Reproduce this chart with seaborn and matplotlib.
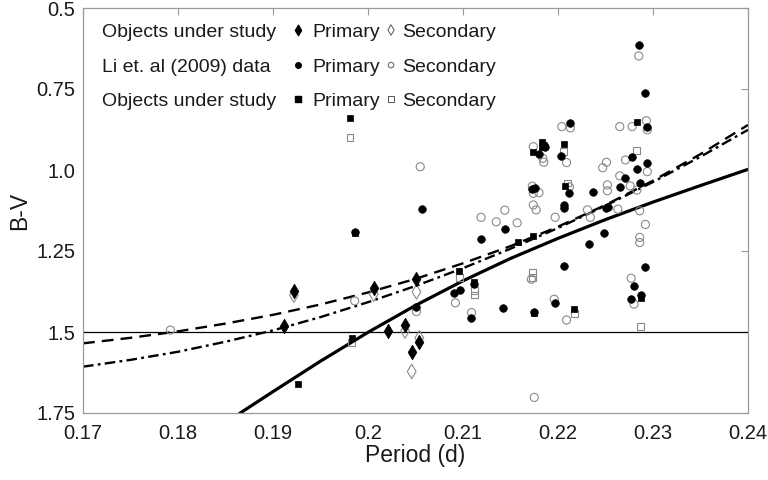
import numpy as np
import pandas as pd
import matplotlib
matplotlib.use("Agg")
import matplotlib.pyplot as plt
import seaborn as sns

# ---------------- data ----------------
# Objects under study (diamonds)
diamond_primary_period = [0.1912, 0.1922, 0.2006, 0.2021, 0.2039, 0.2046, 0.2051, 0.2054]
diamond_primary_bv = [1.481, 1.373, 1.364, 1.497, 1.479, 1.561, 1.337, 1.530]
diamond_secondary_period = [0.1922, 0.2006, 0.2039, 0.2046, 0.2051, 0.2054]
diamond_secondary_bv = [1.386, 1.383, 1.497, 1.622, 1.376, 1.518]

# Objects under study (squares)
square_primary_period = [0.1926, 0.1981, 0.1983, 0.1986, 0.2096, 0.2112, 0.2158, 0.2174,
                         0.2174, 0.2175, 0.2183, 0.2183, 0.2206, 0.2207, 0.2217, 0.2283, 0.2287]
square_primary_bv = [1.661, 0.839, 1.519, 1.195, 1.312, 1.347, 1.221, 1.204,
                     0.943, 1.442, 0.913, 0.928, 0.920, 1.049, 1.429, 0.851, 1.396]
square_secondary_period = [0.1981, 0.1983, 0.2096, 0.2112, 0.2112, 0.2173, 0.2173, 0.2206,
                           0.2210, 0.2217, 0.2283, 0.2287]
square_secondary_bv = [0.899, 1.533, 1.332, 1.373, 1.386, 1.317, 1.332, 0.943,
                       1.040, 1.442, 0.940, 1.484]

# Li et al. (2009) data (circles)
li_primary_period = [0.1986, 0.2051, 0.2057, 0.2091, 0.2097, 0.2108, 0.2112, 0.2119, 0.2142,
                     0.2144, 0.2173, 0.2176, 0.2175, 0.2180, 0.2185, 0.2186, 0.2197, 0.2203,
                     0.2206, 0.2206, 0.2206, 0.2212, 0.2213, 0.2233, 0.2237, 0.2248, 0.2251,
                     0.2253, 0.2265, 0.2271, 0.2277, 0.2278, 0.2280, 0.2283, 0.2285, 0.2286,
                     0.2287, 0.2292, 0.2292, 0.2294, 0.2294]
li_primary_bv = [1.190, 1.424, 1.120, 1.379, 1.370, 1.458, 1.353, 1.213, 1.425,
                 1.183, 1.060, 1.055, 1.437, 0.951, 0.923, 0.930, 1.410, 0.957,
                 1.108, 1.118, 1.296, 1.070, 0.856, 1.229, 1.067, 1.194, 1.118,
                 1.113, 1.054, 1.026, 1.399, 0.959, 1.358, 0.998, 0.614, 1.041,
                 1.386, 0.761, 1.300, 0.866, 0.979]
li_secondary_period = [0.1792, 0.1986, 0.2051, 0.2055, 0.2092, 0.2109, 0.2119, 0.2135, 0.2144,
                       0.2157, 0.2172, 0.2173, 0.2174, 0.2174, 0.2174, 0.2177, 0.2175, 0.2180,
                       0.2184, 0.2185, 0.2196, 0.2197, 0.2204, 0.2209, 0.2209, 0.2212, 0.2213,
                       0.2231, 0.2234, 0.2247, 0.2251, 0.2252, 0.2252, 0.2263, 0.2265, 0.2265,
                       0.2271, 0.2276, 0.2277, 0.2278, 0.2280, 0.2283, 0.2285, 0.2286, 0.2286,
                       0.2286, 0.2292, 0.2293, 0.2294, 0.2294]
li_secondary_bv = [1.494, 1.404, 1.437, 0.990, 1.410, 1.440, 1.146, 1.160, 1.124,
                   1.163, 1.337, 1.050, 0.928, 1.072, 1.108, 1.123, 1.702, 1.070,
                   0.964, 0.976, 1.399, 1.146, 0.866, 0.977, 1.463, 1.052, 0.870,
                   1.123, 1.146, 0.993, 0.976, 1.046, 1.064, 1.121, 0.866, 1.018,
                   0.969, 1.049, 1.334, 0.866, 1.414, 1.062, 0.648, 1.126, 1.208,
                   1.224, 1.168, 0.848, 0.876, 1.005]

# Relation curves
solid_period = [0.1865, 0.19, 0.195, 0.20, 0.205, 0.21, 0.215, 0.22, 0.225, 0.23, 0.235, 0.24]
solid_bv = [1.751, 1.684, 1.590, 1.501, 1.418, 1.342, 1.273, 1.211, 1.153, 1.099, 1.048, 0.998]
dashed_period = [0.17, 0.175, 0.18, 0.185, 0.19, 0.195, 0.20, 0.205, 0.21, 0.215, 0.22, 0.225,
                 0.23, 0.235, 0.24]
dashed_bv = [1.535, 1.518, 1.498, 1.474, 1.447, 1.415, 1.378, 1.336, 1.288, 1.235, 1.175, 1.108,
             1.033, 0.951, 0.861]
dashdot_period = [0.17, 0.175, 0.18, 0.185, 0.19, 0.195, 0.20, 0.205, 0.21, 0.215, 0.22, 0.225,
                  0.23, 0.235, 0.24]
dashdot_bv = [1.607, 1.586, 1.561, 1.530, 1.495, 1.454, 1.408, 1.358, 1.303, 1.243, 1.179, 1.110,
              1.037, 0.959, 0.876]

reference_bv = 1.5

x_ticks = [0.17, 0.18, 0.19, 0.20, 0.21, 0.22, 0.23, 0.24]
x_tick_labels = ["0.17", "0.18", "0.19", "0.2", "0.21", "0.22", "0.23", "0.24"]
y_ticks = [0.5, 0.75, 1.0, 1.25, 1.5, 1.75]
y_tick_labels = ["0.5", "0.75", "1.0", "1.25", "1.5", "1.75"]

legend_rows = ["Objects under study", "Li et. al (2009) data", "Objects under study"]
legend_markers = ["d", "o", "s"]

# ---------------- style ----------------
sns.set_theme(style="white")
plt.rcParams["font.family"] = ["Liberation Sans", "DejaVu Sans"]

GREY = "#8a8a8a"
SPINE = "#9a9a9a"
TXT = "#1a1a1a"

fig, ax = plt.subplots(figsize=(7.68, 4.8), dpi=100)
fig.subplots_adjust(left=83 / 768, right=748 / 768, top=1 - 8 / 480, bottom=1 - 413 / 480)

# curves
sns.lineplot(x=solid_period, y=solid_bv, ax=ax, color="black", lw=2.3, sort=False,
             estimator=None, zorder=2)
sns.lineplot(x=dashed_period, y=dashed_bv, ax=ax, color="black", lw=1.7, sort=False,
             estimator=None, zorder=2)
ax.lines[-1].set_dashes([5, 3])
sns.lineplot(x=dashdot_period, y=dashdot_bv, ax=ax, color="black", lw=1.7, sort=False,
             estimator=None, zorder=2)
ax.lines[-1].set_dashes([4.5, 1.8, 1.2, 1.8])
ax.axhline(reference_bv, color="black", lw=0.9, zorder=1.5)

# open (secondary) markers
sns.scatterplot(x=li_secondary_period, y=li_secondary_bv, ax=ax, marker="o", s=34,
                facecolor="none", edgecolor=GREY, linewidth=0.8, zorder=3)
sns.scatterplot(x=square_secondary_period, y=square_secondary_bv, ax=ax, marker="s", s=24,
                facecolor="none", edgecolor=GREY, linewidth=0.8, zorder=3)
sns.scatterplot(x=diamond_secondary_period, y=diamond_secondary_bv, ax=ax, marker="d", s=55,
                facecolor="none", edgecolor=GREY, linewidth=0.8, zorder=3)

# filled (primary) markers
sns.scatterplot(x=li_primary_period, y=li_primary_bv, ax=ax, marker="o", s=30,
                color="black", edgecolor="black", linewidth=0.5, zorder=4)
sns.scatterplot(x=square_primary_period, y=square_primary_bv, ax=ax, marker="s", s=24,
                color="black", edgecolor="black", linewidth=0.5, zorder=4)
sns.scatterplot(x=diamond_primary_period, y=diamond_primary_bv, ax=ax, marker="d", s=55,
                color="black", edgecolor="black", linewidth=0.5, zorder=4)

# axes
ax.set_xlim(0.17, 0.24)
ax.set_ylim(1.75, 0.5)
ax.set_xticks(x_ticks)
ax.set_xticklabels(x_tick_labels)
ax.set_yticks(y_ticks)
ax.set_yticklabels(y_tick_labels)
ax.tick_params(direction="in", top=True, right=True, length=5, width=0.8, color=SPINE,
               labelsize=14.5, labelcolor=TXT)
ax.tick_params(axis="x", pad=8)
ax.tick_params(axis="y", pad=5.5)
for sp in ax.spines.values():
    sp.set_color(SPINE)
    sp.set_linewidth(0.9)
ax.set_xlabel("Period (d)", fontsize=16.5, color=TXT, labelpad=0.5)
ax.set_ylabel("B-V", fontsize=16.5, color=TXT, labelpad=4)

# manual legend block (MATLAB-style text legend)
row_y = [0.929, 0.8427, 0.758]
mark_y = [0.9457, 0.859, 0.775]
for label, mk, yb, ym in zip(legend_rows, legend_markers, row_y, mark_y):
    ax.text(0.0286, yb, label, transform=ax.transAxes, fontsize=14, color=TXT,
            va="baseline", ha="left")
    msize = 28 if mk == "d" else 16
    ax.scatter([0.3233], [ym], transform=ax.transAxes, marker=mk, s=msize, color="black",
               clip_on=False, zorder=5)
    ax.text(0.3444, yb, "Primary", transform=ax.transAxes, fontsize=14, color=TXT,
            va="baseline", ha="left")
    ax.scatter([0.4632], [ym], transform=ax.transAxes, marker=mk, s=msize, facecolor="none",
               edgecolor="#555555", linewidth=0.7, clip_on=False, zorder=5)
    ax.text(0.4797, yb, "Secondary", transform=ax.transAxes, fontsize=14, color=TXT,
            va="baseline", ha="left")

fig.savefig("out.png", dpi=100)
